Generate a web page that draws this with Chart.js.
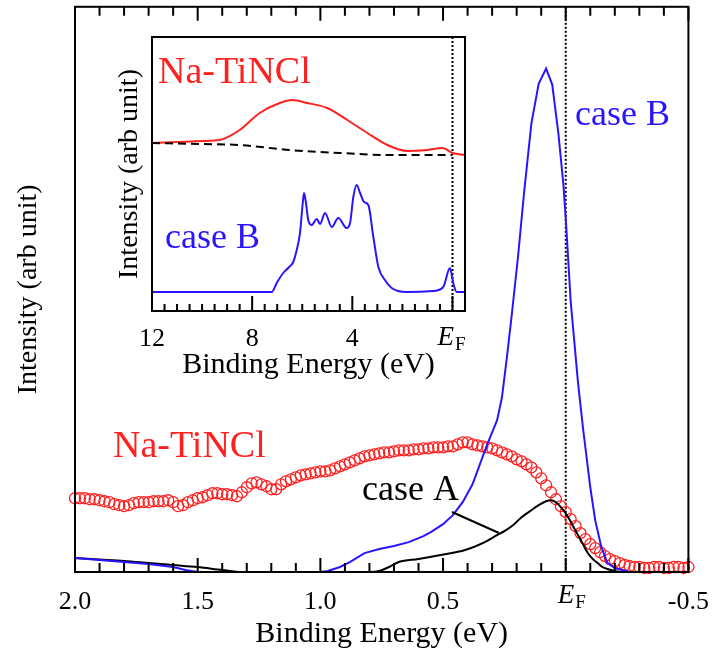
<!DOCTYPE html>
<html>
<head>
<meta charset="utf-8">
<script src="https://cdn.jsdelivr.net/npm/chart.js@4.4.1/dist/chart.umd.min.js"></script>
<style>
  html, body { margin: 0; padding: 0; background: #fff; }
  #wrap { position: relative; width: 716px; height: 657px; }
  #mainChart { position: absolute; left: 0; top: 0; }
  #insetChart { position: absolute; left: 100px; top: 30px; }
</style>
</head>
<body>
<div id="wrap">
  <canvas id="mainChart" width="716" height="657"></canvas>
  <canvas id="insetChart" width="380" height="355"></canvas>
</div>
<script>
// main panel: Na-TiNCl measured spectrum (circles)
const naEnergy = [
  2.00, 1.98, 1.96, 1.94, 1.92, 1.90, 1.88, 1.86, 1.84, 1.82,
  1.80, 1.78, 1.76, 1.74, 1.72, 1.70, 1.68, 1.66, 1.64, 1.62,
  1.60, 1.58, 1.56, 1.54, 1.52, 1.50, 1.48, 1.46, 1.44, 1.42,
  1.40, 1.38, 1.36, 1.34, 1.32, 1.30, 1.28, 1.26, 1.24, 1.22,
  1.20, 1.18, 1.16, 1.14, 1.12, 1.10, 1.08, 1.06, 1.04, 1.02,
  1.00, 0.98, 0.96, 0.94, 0.92, 0.90, 0.88, 0.86, 0.84, 0.82,
  0.80, 0.78, 0.76, 0.74, 0.72, 0.70, 0.68, 0.66, 0.64, 0.62,
  0.60, 0.58, 0.56, 0.54, 0.52, 0.50, 0.48, 0.46, 0.44, 0.42,
  0.40, 0.38, 0.36, 0.34, 0.32, 0.30, 0.28, 0.26, 0.24, 0.22,
  0.20, 0.18, 0.16, 0.14, 0.12, 0.10, 0.08, 0.06, 0.04, 0.02,
  0.00, -0.02, -0.04, -0.06, -0.08, -0.10, -0.12, -0.14, -0.16, -0.18,
  -0.20, -0.22, -0.24, -0.26, -0.28, -0.30, -0.32, -0.34, -0.36, -0.38,
  -0.40, -0.42, -0.44, -0.46, -0.48, -0.50
];
const naIntensity = [
  74, 74, 74, 73, 73, 72, 71, 70, 68, 67,
  66, 67, 69, 70, 70, 70, 71, 71, 71, 72,
  70, 66, 67, 70, 72, 74, 75, 77, 79, 79,
  78, 78, 77, 76, 80, 85, 89, 90, 88, 86,
  83, 83, 88, 91, 93, 95, 97, 98, 99, 100,
  101, 101, 102, 104, 106, 108, 110, 112, 114, 116,
  117, 118, 119, 120, 120, 121, 122, 122, 122, 123,
  123, 124, 124, 125, 125, 125, 126, 126, 128, 130,
  130, 128, 127, 126, 125, 124, 122, 120, 118, 116,
  113, 111, 108, 105, 100, 94, 87, 80, 73, 66,
  60, 53, 46, 39, 33, 28, 24, 20, 16, 13,
  11, 9, 7, 6, 5, 5, 4, 4, 5, 5,
  4, 4, 5, 5, 4, 5
];

// main panel: calculated case A and case B
const caseAEnergy = [2.0, 1.9, 1.8, 1.7, 1.6, 1.5, 1.4, 1.32, 1.0, 0.8, 0.76, 0.72, 0.68, 0.6, 0.51,
  0.41, 0.33, 0.28, 0.25, 0.21, 0.18, 0.14, 0.11, 0.08, 0.06, 0.04, 0.02, -0.01, -0.03, -0.05,
  -0.07, -0.09, -0.11, -0.13, -0.15, -0.17, -0.2, -0.23, -0.5];
const caseAIntensity = [14, 12.5, 11, 9, 7, 5, 2, 0, 0, 0, 1, 5, 10, 13, 17,
  22, 30, 37, 41, 48, 55, 62, 67, 71, 72, 70, 65, 55, 46, 37,
  28, 19, 13, 9, 5, 3, 1, 0, 0];

const caseBEnergy = [2.0, 1.9, 1.8, 1.7, 1.6, 1.55, 1.5, 1.4, 1.2, 1.0, 0.97, 0.92, 0.88, 0.82, 0.76,
  0.70, 0.64, 0.58, 0.55, 0.50, 0.46, 0.42, 0.38, 0.35, 0.32, 0.30, 0.28, 0.26, 0.24, 0.22,
  0.195, 0.17, 0.14, 0.11, 0.08, 0.055, 0.03, 0.01, 0.0, -0.02, -0.05, -0.07, -0.08, -0.10, -0.12,
  -0.145, -0.17, -0.20, -0.23, -0.26, -0.5];
const caseBIntensity = [14, 12, 10, 8, 5, 2, 0, 0, 0, 0, 1, 5, 10, 19, 23,
  26, 30, 36, 40, 48, 57, 70, 88, 108, 128, 140, 152, 175, 215, 258,
  315, 380, 450, 490, 505, 489, 440, 390, 355, 272, 190, 145, 125, 85, 52,
  25, 9, 4, 2, 0, 0];

// inset: wide-range spectra
const insetNaEnergy = [12, 11, 10, 9.3, 8.5, 7.7, 6.9, 6.4, 5.8, 5.0, 4.2, 3.4, 2.6, 1.8, 1.0, 0.4, 0.0, -0.5];
const insetNaIntensity = [168, 169, 170, 171, 181, 198, 208, 211, 208, 203, 191, 178, 166, 160, 161, 163, 158, 156];
const insetBgEnergy = [12, 10, 8.5, 6.5, 4.5, 2.5, 0.0];
const insetBgIntensity = [168, 167, 166, 161, 158, 156, 156];
const insetBEnergy = [12, 9, 7.22, 7.02, 6.76, 6.56, 6.36, 6.25, 6.09, 5.98,
  5.93, 5.85, 5.76, 5.62, 5.42, 5.29, 5.09, 4.82, 4.56, 4.23,
  4.09, 3.96, 3.83, 3.69, 3.53, 3.36, 3.16, 2.96, 2.7, 2.43,
  1.83, 0.77, 0.37, 0.1, -0.03, -0.17, -0.5];
const insetBIntensity = [19, 19, 19, 28, 38, 43, 49, 58, 78, 108,
  118, 108, 91, 86, 92, 87, 98, 84, 93, 83,
  88, 114, 126, 118, 109, 106, 74, 44, 31, 23,
  19, 20, 24, 43, 28, 19, 19];

const serif = "'Liberation Serif', 'Times New Roman', serif";
const RED = '#ff2020';
const BLUE = '#2a14ff';

const pts = (xs, ys) => xs.map((x, i) => ({ x: x, y: ys[i] }));
const near = (v, m) => Math.abs(v / m - Math.round(v / m)) < 1e-6;

function drawEF(ctx, x, y, big, small) {
  ctx.save();
  ctx.fillStyle = '#000';
  ctx.textBaseline = 'alphabetic';
  ctx.textAlign = 'left';
  ctx.font = 'italic ' + big + 'px ' + serif;
  ctx.fillText('E', x, y);
  const w = ctx.measureText('E').width;
  ctx.font = small + 'px ' + serif;
  ctx.fillText('F', x + w + 1, y + 5);
  ctx.restore();
}

const mainDecor = {
  id: 'mainDecor',
  beforeDatasetsDraw(chart) {
    const { ctx, chartArea: a, scales: { x } } = chart;
    const ef = x.getPixelForValue(0);
    ctx.save();
    ctx.strokeStyle = '#000';
    ctx.lineWidth = 2;
    ctx.setLineDash([2, 2]);
    ctx.beginPath();
    ctx.moveTo(ef, a.top);
    ctx.lineTo(ef, a.bottom);
    ctx.stroke();
    ctx.restore();
  },
  afterDraw(chart) {
    const { ctx, chartArea: a, scales: { x } } = chart;
    ctx.save();
    ctx.strokeStyle = '#000';
    ctx.lineWidth = 2;
    ctx.strokeRect(a.left, a.top, a.right - a.left, a.bottom - a.top);
    ctx.beginPath();
    x.ticks.forEach(t => {
      const px = x.getPixelForValue(t.value);
      const len = near(t.value, 0.5) ? 14 : 9;
      ctx.moveTo(px, a.bottom);
      ctx.lineTo(px, a.bottom - len);
      ctx.moveTo(px, a.top);
      ctx.lineTo(px, a.top + len);
    });
    ctx.stroke();

    // leader line for case A
    ctx.beginPath();
    ctx.moveTo(452, 512);
    ctx.lineTo(499, 533);
    ctx.stroke();

    ctx.textBaseline = 'alphabetic';
    ctx.textAlign = 'left';
    ctx.font = '38px ' + serif;
    ctx.fillStyle = RED;
    ctx.fillText('Na-TiNCl', 113, 457);
    ctx.font = '36px ' + serif;
    ctx.fillStyle = '#000';
    ctx.fillText('case A', 362, 500);
    ctx.fillStyle = BLUE;
    ctx.fillText('case B', 575, 125);
    ctx.restore();

    drawEF(ctx, x.getPixelForValue(0) - 8, 603, 27, 19);
  }
};

new Chart(document.getElementById('mainChart'), {
  type: 'scatter',
  data: {
    datasets: [
      {
        label: 'case B',
        data: pts(caseBEnergy, caseBIntensity),
        showLine: true,
        borderColor: BLUE,
        borderWidth: 2,
        pointRadius: 0,
        tension: 0
      },
      {
        label: 'case A',
        data: pts(caseAEnergy, caseAIntensity),
        showLine: true,
        borderColor: '#000',
        borderWidth: 2,
        pointRadius: 0,
        cubicInterpolationMode: 'monotone'
      },
      {
        label: 'Na-TiNCl',
        data: pts(naEnergy, naIntensity),
        showLine: false,
        pointStyle: 'circle',
        pointRadius: 5.5,
        borderWidth: 1.3,
        borderColor: RED,
        backgroundColor: 'rgba(0,0,0,0)',
        clip: false
      }
    ]
  },
  options: {
    responsive: false,
    animation: false,
    devicePixelRatio: 1,
    layout: { padding: { top: 5, right: 26, left: 0, bottom: 0 } },
    plugins: { legend: { display: false }, tooltip: { enabled: false } },
    scales: {
      x: {
        type: 'linear',
        reverse: true,
        min: -0.5,
        max: 2.0,
        grid: { display: false },
        border: { display: false },
        ticks: {
          stepSize: 0.1,
          autoSkip: false,
          maxRotation: 0,
          padding: 7,
          color: '#000',
          font: { family: serif, size: 26 },
          callback: v => (near(v, 0.5) && Math.abs(v) > 1e-6) ? v.toFixed(1) : ''
        },
        title: {
          display: true,
          text: 'Binding Energy (eV)',
          color: '#000',
          font: { family: serif, size: 30 },
          padding: { top: 0, bottom: 5 }
        },
        afterFit: s => { s.height = 85; }
      },
      y: {
        min: 0,
        max: 567,
        grid: { display: false },
        border: { display: false },
        ticks: { display: false },
        title: {
          display: true,
          text: 'Intensity (arb unit)',
          color: '#000',
          font: { family: serif, size: 28 },
          padding: { top: 12, bottom: 0 }
        },
        afterFit: s => { s.width = 75; }
      }
    }
  },
  plugins: [mainDecor]
});

const insetDecor = {
  id: 'insetDecor',
  beforeDraw(chart) {
    const { ctx, chartArea: a } = chart;
    ctx.save();
    ctx.fillStyle = '#fff';
    ctx.fillRect(a.left, a.top, a.right - a.left, a.bottom - a.top);
    ctx.restore();
  },
  beforeDatasetsDraw(chart) {
    const { ctx, chartArea: a, scales: { x } } = chart;
    const ef = x.getPixelForValue(0);
    ctx.save();
    ctx.strokeStyle = '#000';
    ctx.lineWidth = 2;
    ctx.setLineDash([2, 2]);
    ctx.beginPath();
    ctx.moveTo(ef, a.top);
    ctx.lineTo(ef, a.bottom);
    ctx.stroke();
    ctx.restore();
  },
  afterDraw(chart) {
    const { ctx, chartArea: a, scales: { x } } = chart;
    ctx.save();
    ctx.strokeStyle = '#000';
    ctx.lineWidth = 2;
    ctx.strokeRect(a.left, a.top, a.right - a.left, a.bottom - a.top);
    ctx.beginPath();
    x.ticks.forEach(t => {
      const px = x.getPixelForValue(t.value);
      const len = near(t.value, 4) ? 15 : 7;
      ctx.moveTo(px, a.bottom);
      ctx.lineTo(px, a.bottom - len);
    });
    ctx.stroke();

    ctx.textBaseline = 'alphabetic';
    ctx.textAlign = 'left';
    ctx.font = '38px ' + serif;
    ctx.fillStyle = RED;
    ctx.fillText('Na-TiNCl', 58, 53);
    ctx.font = '36px ' + serif;
    ctx.fillStyle = BLUE;
    ctx.fillText('case B', 65, 218);
    ctx.restore();

    drawEF(ctx, x.getPixelForValue(0) - 15, 315, 27, 19);
  }
};

new Chart(document.getElementById('insetChart'), {
  type: 'scatter',
  data: {
    datasets: [
      {
        label: 'background',
        data: pts(insetBgEnergy, insetBgIntensity),
        showLine: true,
        borderColor: '#000',
        borderWidth: 2,
        borderDash: [8, 5],
        pointRadius: 0,
        cubicInterpolationMode: 'monotone'
      },
      {
        label: 'Na-TiNCl',
        data: pts(insetNaEnergy, insetNaIntensity),
        showLine: true,
        borderColor: RED,
        borderWidth: 2,
        pointRadius: 0,
        cubicInterpolationMode: 'monotone'
      },
      {
        label: 'case B',
        data: pts(insetBEnergy, insetBIntensity),
        showLine: true,
        borderColor: BLUE,
        borderWidth: 2,
        pointRadius: 0,
        cubicInterpolationMode: 'monotone'
      }
    ]
  },
  options: {
    responsive: false,
    animation: false,
    devicePixelRatio: 1,
    layout: { padding: { top: 7, right: 15, left: 0, bottom: 0 } },
    plugins: { legend: { display: false }, tooltip: { enabled: false } },
    scales: {
      x: {
        type: 'linear',
        reverse: true,
        min: -0.5,
        max: 12,
        grid: { display: false },
        border: { display: false },
        ticks: {
          stepSize: 0.5,
          autoSkip: false,
          maxRotation: 0,
          padding: 5,
          color: '#000',
          font: { family: serif, size: 26 },
          callback: v => (near(v, 4) && Math.abs(v) > 1e-6) ? String(Math.round(v)) : ''
        },
        title: {
          display: true,
          text: 'Binding Energy (eV)',
          color: '#000',
          font: { family: serif, size: 30 },
          padding: { top: 0, bottom: 2 }
        },
        afterFit: s => { s.height = 74; }
      },
      y: {
        min: 0,
        max: 274,
        grid: { display: false },
        border: { display: false },
        ticks: { display: false },
        title: {
          display: true,
          text: 'Intensity (arb unit)',
          color: '#000',
          font: { family: serif, size: 28 },
          padding: { top: 13, bottom: 0 }
        },
        afterFit: s => { s.width = 52; }
      }
    }
  },
  plugins: [insetDecor]
});
</script>
</body>
</html>
